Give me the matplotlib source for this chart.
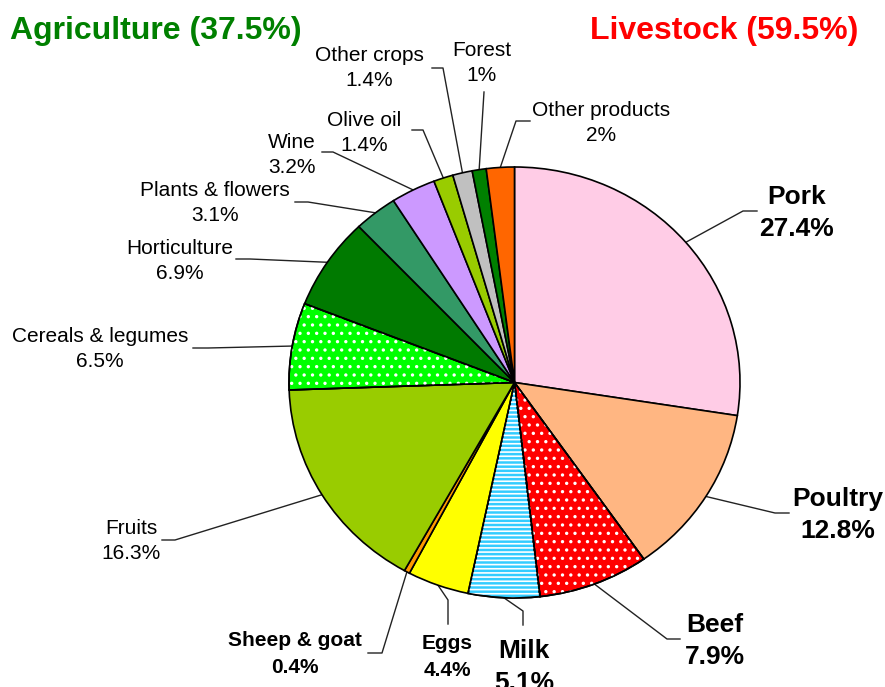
import matplotlib
matplotlib.use("Agg")
import matplotlib.pyplot as plt
from matplotlib.patches import Wedge
import numpy as np

plt.rcParams["font.family"] = ["Liberation Sans", "DejaVu Sans"]
plt.rcParams["hatch.linewidth"] = 1.2

# data, clockwise from the top
names = ["Pork", "Poultry", "Beef", "Milk", "Eggs", "Sheep & goat", "Fruits",
         "Cereals & legumes", "Horticulture", "Plants & flowers", "Wine",
         "Olive oil", "Other crops", "Forest", "Other products"]
shares = [27.4, 12.8, 7.9, 5.1, 4.4, 0.4, 16.3, 6.5, 6.9, 3.1, 3.2, 1.4, 1.4, 1.0, 2.0]
share_text = ["27.4%", "12.8%", "7.9%", "5.1%", "4.4%", "0.4%", "16.3%", "6.5%",
              "6.9%", "3.1%", "3.2%", "1.4%", "1.4%", "1%", "2%"]
colors = ["#FFCCE6", "#FFB682", "#FF0000", "#33CCFF", "#FFFF00", "#FF9900", "#99CC00",
          "#00FF00", "#007A00", "#339966", "#CC99FF", "#99CC00", "#C0C0C0", "#008000",
          "#FF6600"]
hatches = [None, None, "..", "----", None, None, None, "..", None, None, None,
           None, None, None, None]
group_titles = ["Agriculture (37.5%)", "Livestock (59.5%)"]
group_colors = ["#008000", "#FF0000"]

# layout (pixels in the 885x687 picture)
W, H = 885, 687
cx, cy, rx, ry = 514.5, 382.5, 225.5, 215.5

def px(x, y):
    return (x - cx) / rx, (cy - y) / ry

label_pos = [(797, 213), (838, 515), (715, 641), (524, 667), (447, 657), (295, 654),
             (131, 541), (100, 349), (180, 261), (215, 203), (292, 155), (364, 133),
             (369, 68), (482, 63), (601, 123)]
leaders = [[(743, 211), (757, 211)], [(775, 513), (789, 513)], [(667, 639), (680, 639)],
           [(523, 611), (523, 625)], [(448, 600), (448, 624)], [(382, 653), (368, 653)],
           [(175, 540), (162, 540)], [(208, 348), (193, 348)], [(250, 259), (236, 259)],
           [(308, 202), (295, 202)], [(333, 152), (322, 152)], [(423, 130), (412, 130)],
           [(443, 68), (432, 68)], [(484, 92)], [(516, 121), (530, 121)]]
big_bold = ["Pork", "Poultry", "Beef", "Milk"]
small_bold = ["Eggs", "Sheep & goat"]

fig = plt.figure(figsize=(W / 100, H / 100), dpi=100)
ax = fig.add_axes([0, 0, 1, 1])

wedges, _ = ax.pie(shares, colors=colors, startangle=90, counterclock=False,
                   wedgeprops=dict(edgecolor="black", linewidth=1.2))

for w, h in zip(wedges, hatches):
    if h:
        ax.add_patch(Wedge(w.center, w.r, w.theta1, w.theta2, facecolor="none",
                           edgecolor="white", hatch=h, linewidth=0))
        ax.add_patch(Wedge(w.center, w.r, w.theta1, w.theta2, fill=False,
                           edgecolor="black", linewidth=1.2))

for i, w in enumerate(wedges):
    mid = np.deg2rad((w.theta1 + w.theta2) / 2)
    pts = [(np.cos(mid), np.sin(mid))] + [px(*p) for p in leaders[i]]
    xs, ys = zip(*pts)
    ax.plot(xs, ys, color="#222222", lw=1, zorder=0)

    name = names[i]
    if name in big_bold:
        size, weight, spacing = 19, "bold", 1.42
    elif name in small_bold:
        size, weight, spacing = 15, "bold", 1.5
    else:
        size, weight, spacing = 15, "normal", 1.42
    lx, ly = px(*label_pos[i])
    ax.text(lx, ly, name + "\n" + share_text[i], ha="center", va="center",
            fontsize=size, fontweight=weight, linespacing=spacing,
            multialignment="center")

ax.text(*px(156, 31), group_titles[0], ha="center", va="center", fontsize=23,
        fontweight="bold", color=group_colors[0])
ax.text(*px(724, 31), group_titles[1], ha="center", va="center", fontsize=23,
        fontweight="bold", color=group_colors[1])

ax.set_aspect("auto")
ax.set_xlim(px(0, 0)[0], px(W, 0)[0])
ax.set_ylim(px(0, H)[1], px(0, 0)[1])
ax.axis("off")

fig.savefig("out.png", dpi=100)
